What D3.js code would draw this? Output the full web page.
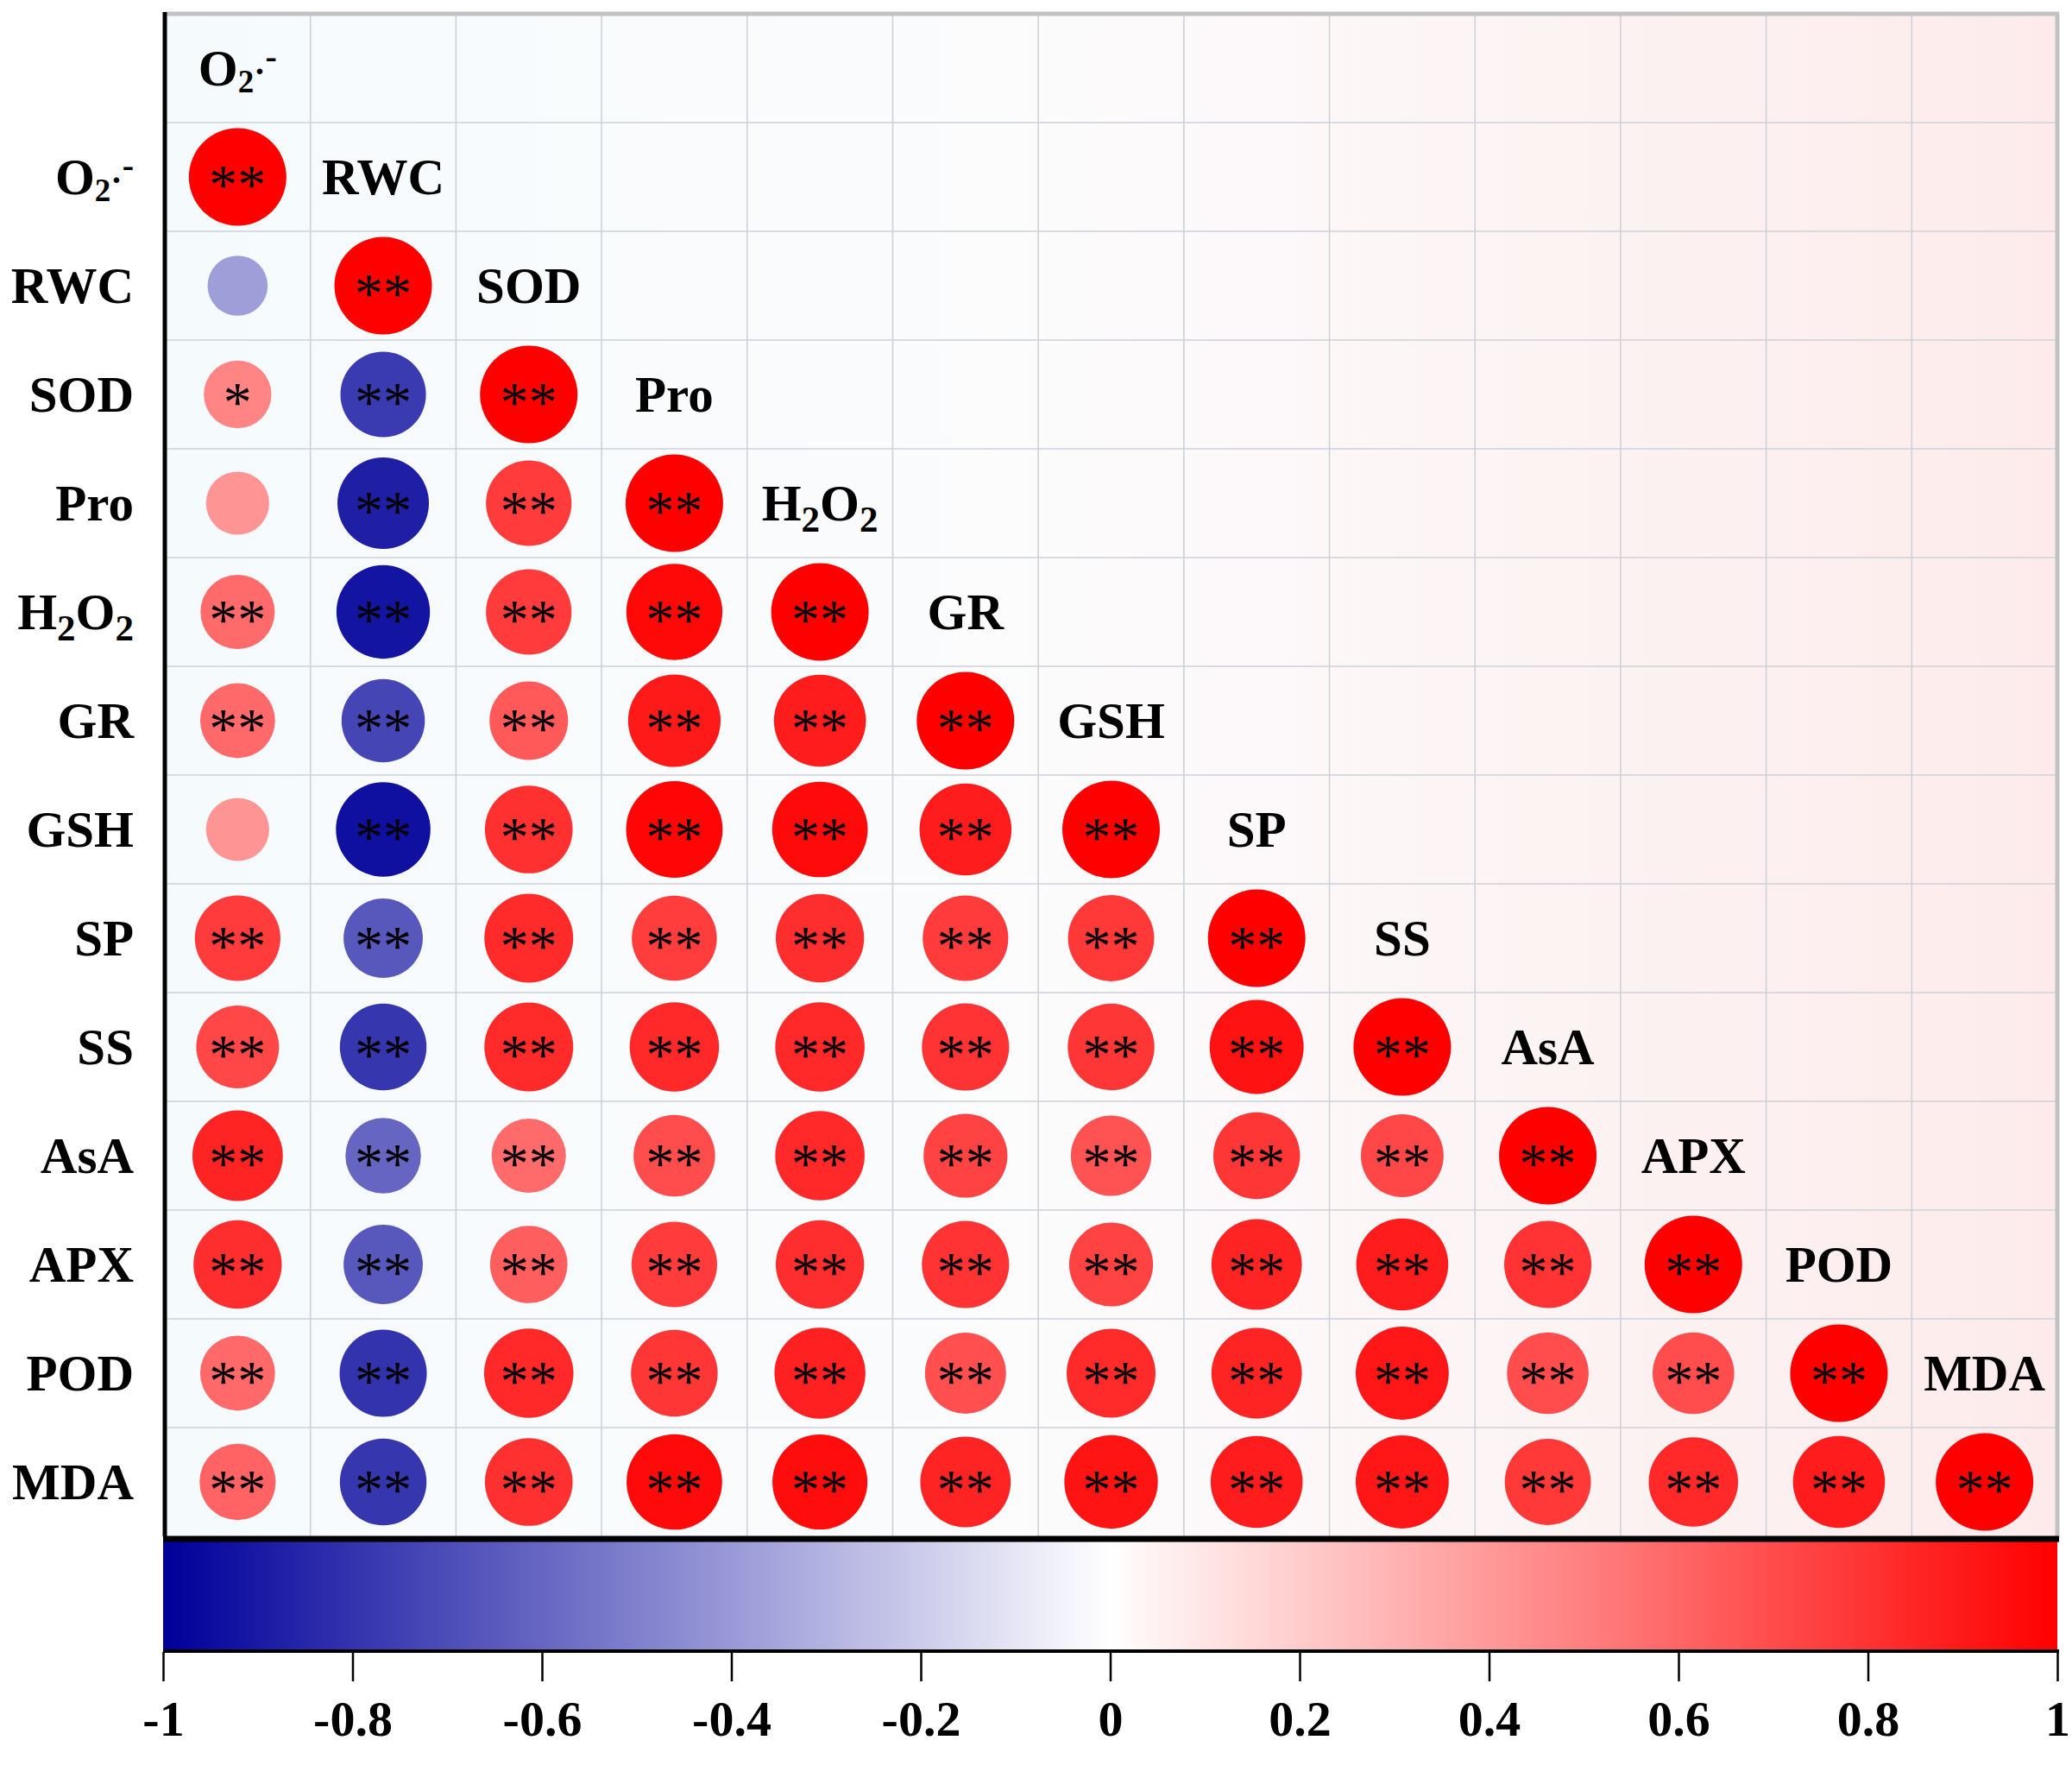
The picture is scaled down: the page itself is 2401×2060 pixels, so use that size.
<!DOCTYPE html>
<html>
<head>
<meta charset="utf-8">
<script src="https://d3js.org/d3.v7.min.js"></script>
<style>
body { margin: 0; background: #fff; }
svg { display: block; }
text { font-family: "Liberation Serif", "Times New Roman", serif; }
</style>
</head>
<body>
<svg id="chart" width="2401" height="2060"></svg>
<script>
// variables in plot order
var variables = ["O2·-", "RWC", "SOD", "Pro", "H2O2", "GR", "GSH", "SP", "SS", "AsA", "APX", "POD", "MDA"];

// lower triangle, row i holds r(i, j) for j < i (diagonal is 1)
var corrRows = [
    [],
    [-0.38],
    [0.48, -0.77],
    [0.42, -0.88, 0.77],
    [0.58, -0.92, 0.77, 0.97],
    [0.59, -0.73, 0.65, 0.90, 0.89],
    [0.42, -0.94, 0.81, 0.98, 0.96, 0.89],
    [0.77, -0.66, 0.83, 0.76, 0.82, 0.77, 0.78],
    [0.72, -0.79, 0.83, 0.84, 0.84, 0.80, 0.79, 0.93],
    [0.86, -0.60, 0.58, 0.70, 0.84, 0.74, 0.68, 0.79, 0.72],
    [0.82, -0.66, 0.63, 0.77, 0.82, 0.80, 0.74, 0.86, 0.89, 0.80],
    [0.59, -0.80, 0.84, 0.79, 0.87, 0.69, 0.83, 0.86, 0.91, 0.70, 0.70],
    [0.61, -0.79, 0.81, 0.96, 0.95, 0.86, 0.92, 0.89, 0.91, 0.78, 0.84, 0.89]
];

// significance marks, same shape
var sigRows = [
    [],
    [""],
    ["*", "**"],
    ["", "**", "**"],
    ["**", "**", "**", "**"],
    ["**", "**", "**", "**", "**"],
    ["", "**", "**", "**", "**", "**"],
    ["**", "**", "**", "**", "**", "**", "**"],
    ["**", "**", "**", "**", "**", "**", "**", "**"],
    ["**", "**", "**", "**", "**", "**", "**", "**", "**"],
    ["**", "**", "**", "**", "**", "**", "**", "**", "**", "**"],
    ["**", "**", "**", "**", "**", "**", "**", "**", "**", "**", "**"],
    ["**", "**", "**", "**", "**", "**", "**", "**", "**", "**", "**", "**"]
];
var diagSig = "**";

var colorbarTicks = [-1, -0.8, -0.6, -0.4, -0.2, 0, 0.2, 0.4, 0.6, 0.8, 1];

(function(){
    var svg = d3.select("#chart");
    var defs = svg.append("defs");

    var pLeft = 191, pRight = 2384, pTop = 16, pBottom = 1780;
    var n = variables.length;

    var x = d3.scaleBand().domain(d3.range(n)).range([pLeft, pRight]);
    var y = d3.scaleBand().domain(d3.range(n + 1)).range([pTop, pBottom]);
    var color = d3.scaleLinear().domain([-1, 0, 1]).range(["#00009a", "#ffffff", "#ff0000"]);
    var size = d3.scaleSqrt().domain([0, 1]).range([0, 56.5]);

    // faint background wash
    var bg = defs.append("linearGradient").attr("id", "bgGrad")
        .attr("x1", "0%").attr("x2", "100%").attr("y1", "0%").attr("y2", "0%");
    bg.append("stop").attr("offset", "0%").attr("stop-color", "#f5fafc");
    bg.append("stop").attr("offset", "45%").attr("stop-color", "#fcfcfd");
    bg.append("stop").attr("offset", "100%").attr("stop-color", "#fdebeb");

    svg.append("rect")
        .attr("x", pLeft).attr("y", pTop)
        .attr("width", pRight - pLeft).attr("height", pBottom - pTop)
        .attr("fill", "url(#bgGrad)");

    // grid
    var grid = svg.append("g").attr("stroke", "#ced1d8").attr("stroke-width", 1.6);
    grid.selectAll("line.v").data(d3.range(1, n)).enter().append("line")
        .attr("class", "v")
        .attr("x1", function(d){return x(d);}).attr("x2", function(d){return x(d);})
        .attr("y1", pTop).attr("y2", pBottom);
    grid.selectAll("line.h").data(d3.range(1, n + 1)).enter().append("line")
        .attr("class", "h")
        .attr("x1", pLeft).attr("x2", pRight)
        .attr("y1", function(d){return y(d);}).attr("y2", function(d){return y(d);});

    // frame
    svg.append("line").attr("x1", pLeft).attr("x2", pRight + 2).attr("y1", pTop).attr("y2", pTop)
        .attr("stroke", "#c2c2c2").attr("stroke-width", 5);
    svg.append("line").attr("x1", pRight).attr("x2", pRight).attr("y1", pTop).attr("y2", pBottom)
        .attr("stroke", "#c2c2c2").attr("stroke-width", 5);
    svg.append("line").attr("x1", pLeft).attr("x2", pLeft).attr("y1", pTop - 2).attr("y2", pBottom)
        .attr("stroke", "#000").attr("stroke-width", 5);

    // cells
    var cells = [];
    corrRows.forEach(function(row, i){
        for (var j = 0; j <= i; j++) {
            cells.push({
                i: i, j: j,
                r: j == i ? 1 : row[j],
                sig: j == i ? diagSig : sigRows[i][j]
            });
        }
    });

    var bw = x.bandwidth(), bh = y.bandwidth();
    var cell = svg.selectAll("g.cell").data(cells).enter().append("g")
        .attr("class", "cell")
        .attr("transform", function(d){
            return "translate(" + (x(d.j) + bw / 2) + "," + (y(d.i + 1) + bh / 2) + ")";
        });
    cell.append("circle")
        .attr("r", function(d){return size(Math.abs(d.r));})
        .attr("fill", function(d){return color(d.r);});
    cell.append("text")
        .attr("text-anchor", "middle")
        .attr("y", 31)
        .attr("font-size", 66)
        .attr("fill", "#000")
        .text(function(d){return d.sig;});

    // label with chemical sub/superscripts
    function richLabel(sel, name){
        if (name == "O2·-") {
            sel.append("tspan").text("O");
            sel.append("tspan").attr("font-size", 37).attr("dy", 8).text("2");
            sel.append("tspan").attr("font-size", 40).attr("dy", -11).text("·");
            sel.append("tspan").attr("font-size", 40).attr("dy", -17).text("-");
        } else if (name == "H2O2") {
            sel.append("tspan").text("H");
            sel.append("tspan").attr("font-size", 43).attr("dy", 13).text("2");
            sel.append("tspan").attr("dy", -13).text("O");
            sel.append("tspan").attr("font-size", 43).attr("dy", 13).text("2");
        } else {
            sel.text(name);
        }
    }

    // row labels on the left
    svg.selectAll("text.rowLabel").data(variables).enter().append("text")
        .attr("class", "rowLabel")
        .attr("x", 155)
        .attr("y", function(d, i){return y(i + 1) + bh / 2 + 20;})
        .attr("text-anchor", "end")
        .attr("font-size", 59)
        .attr("font-weight", "bold")
        .each(function(d){richLabel(d3.select(this), d);});

    // diagonal labels
    svg.selectAll("text.diagLabel").data(variables).enter().append("text")
        .attr("class", "diagLabel")
        .attr("x", function(d, i){return x(i) + bw / 2;})
        .attr("y", function(d, i){return y(i) + bh / 2 + 20;})
        .attr("text-anchor", "middle")
        .attr("font-size", 59)
        .attr("font-weight", "bold")
        .each(function(d){richLabel(d3.select(this), d);});

    // colour bar
    var cbTop = 1786, cbBottom = 1913;
    var cbX = d3.scaleLinear().domain([-1, 1]).range([pLeft - 2, pRight]);
    var cbGrad = defs.append("linearGradient").attr("id", "cbGrad")
        .attr("x1", "0%").attr("x2", "100%").attr("y1", "0%").attr("y2", "0%");
    d3.range(0, 1.0001, 0.05).forEach(function(t){
        cbGrad.append("stop").attr("offset", (t * 100) + "%").attr("stop-color", color(-1 + 2 * t));
    });
    svg.append("rect")
        .attr("x", cbX(-1)).attr("y", cbTop)
        .attr("width", cbX(1) - cbX(-1)).attr("height", cbBottom - cbTop)
        .attr("fill", "url(#cbGrad)");
    svg.append("line").attr("x1", cbX(-1)).attr("x2", pRight + 2).attr("y1", 1783).attr("y2", 1783)
        .attr("stroke", "#000").attr("stroke-width", 7);
    svg.append("line").attr("x1", cbX(-1)).attr("x2", pRight + 2).attr("y1", cbBottom).attr("y2", cbBottom)
        .attr("stroke", "#000").attr("stroke-width", 4);

    var axis = d3.axisBottom(cbX)
        .tickValues(colorbarTicks)
        .tickSize(34)
        .tickPadding(22)
        .tickFormat(function(d){return String(+d.toFixed(1));});
    var ax = svg.append("g")
        .attr("transform", "translate(0," + (cbBottom + 1) + ")")
        .call(axis);
    ax.select(".domain").remove();
    ax.selectAll(".tick line").attr("stroke", "#000").attr("stroke-width", 2.5);
    ax.selectAll(".tick text")
        .attr("fill", "#000")
        .attr("font-size", 58)
        .attr("font-weight", "bold")
        .attr("font-family", "'Liberation Serif', 'Times New Roman', serif");
})();
</script>
</body>
</html>
